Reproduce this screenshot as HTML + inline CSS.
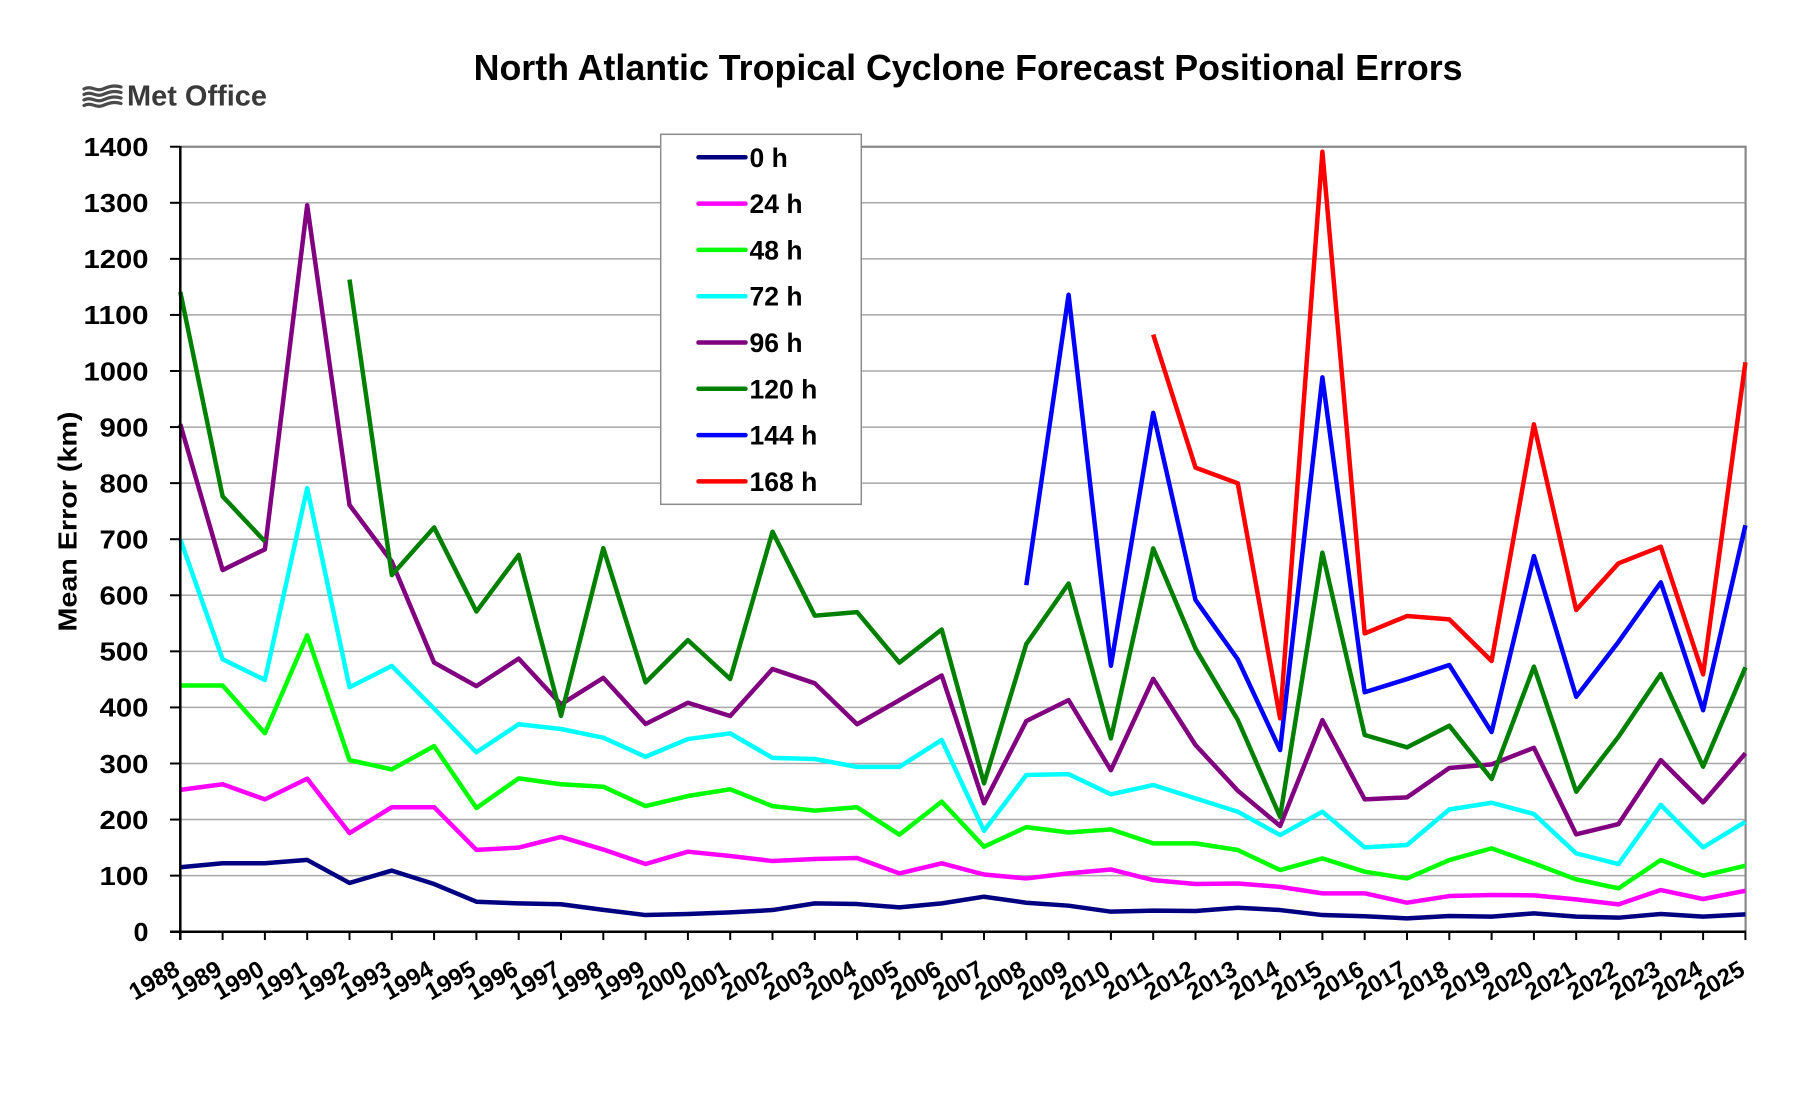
<!DOCTYPE html>
<html>
<head>
<meta charset="utf-8">
<style>
html,body{margin:0;padding:0;background:#fff;width:1800px;height:1099px;overflow:hidden}
svg{display:block}
text{font-family:"Liberation Sans",Arial,sans-serif;font-weight:bold;fill:#000}
.yt{font-size:26px;text-anchor:end}
.xt{font-size:24px;text-anchor:end}
.lg{font-size:26.5px}
.s{fill:none;stroke-width:4.5;stroke-linejoin:round;stroke-linecap:butt;vector-effect:non-scaling-stroke}
</style>
</head>
<body>
<svg width="1800" height="1099" viewBox="0 0 1800 1099" xmlns="http://www.w3.org/2000/svg">
<rect x="0" y="0" width="1800" height="1099" fill="#fff"/>

<!-- Title -->
<text x="473.6" y="80" font-size="36" textLength="989" lengthAdjust="spacingAndGlyphs">North Atlantic Tropical Cyclone Forecast Positional Errors</text>

<!-- Met Office logo -->
<g stroke="#4a4a4a" stroke-width="3.2" fill="none" stroke-linecap="round">
<path d="M84,89 c7,-4 12,3 19,0 s12,-4 18,-2"/>
<path d="M84,94.5 c7,-4 12,3 19,0 s12,-4 18,-2"/>
<path d="M84,100 c7,-4 12,3 19,0 s12,-4 18,-2"/>
<path d="M84,105.5 c7,-4 12,3 19,0 s12,-4 18,-2"/>
</g>
<text x="127" y="105.7" font-size="29" textLength="140" lengthAdjust="spacingAndGlyphs" style="fill:#3a3a3a">Met Office</text>

<!-- Gridlines -->
<g stroke="#a8a8a8" stroke-width="1.5">
<line x1="180.3" y1="875.63" x2="1745.6" y2="875.63"/>
<line x1="180.3" y1="819.56" x2="1745.6" y2="819.56"/>
<line x1="180.3" y1="763.49" x2="1745.6" y2="763.49"/>
<line x1="180.3" y1="707.42" x2="1745.6" y2="707.42"/>
<line x1="180.3" y1="651.35" x2="1745.6" y2="651.35"/>
<line x1="180.3" y1="595.28" x2="1745.6" y2="595.28"/>
<line x1="180.3" y1="539.21" x2="1745.6" y2="539.21"/>
<line x1="180.3" y1="483.14" x2="1745.6" y2="483.14"/>
<line x1="180.3" y1="427.07" x2="1745.6" y2="427.07"/>
<line x1="180.3" y1="371.0" x2="1745.6" y2="371.0"/>
<line x1="180.3" y1="314.93" x2="1745.6" y2="314.93"/>
<line x1="180.3" y1="258.86" x2="1745.6" y2="258.86"/>
<line x1="180.3" y1="202.79" x2="1745.6" y2="202.79"/>
</g>
<!-- plot border top/right -->
<line x1="180.3" y1="146.72" x2="1746.5" y2="146.72" stroke="#888" stroke-width="2.2"/>
<line x1="1745.6" y1="146" x2="1745.6" y2="932" stroke="#888" stroke-width="2.2"/>

<!-- Series -->
<g transform="translate(180.3,931.7) scale(42.3,-0.5607)">
<polyline class="s" stroke="#000080" points="0,115 1,122 2,122 3,128 4,87 5,109 6,85 7,53.5 8,50.5 9,49 10,39 11,29.7 12,31.5 13,34.5 14,38.6 15,50.5 16,49.3 17,43.4 18,50.5 19,62.4 20,51.7 21,46.4 22,35.7 23,37.5 24,36.9 25,42.8 26,38.6 27,29.7 28,27.5 29,23.8 30,28 31,26.8 32,32.7 33,26.8 34,25 35,31.5 36,26.8 37,31"/>
<polyline class="s" stroke="#FF00FF" points="0,253 1,263 2,236 3,273 4,176 5,222 6,222 7,146 8,150 9,169 10,146.5 11,120.7 12,142.7 13,135 14,126 15,129.6 16,131.4 17,104 18,122 19,102 20,95 21,104 22,111 23,92 24,85 25,86 26,80 27,68.4 28,68.4 29,51.7 30,63.6 31,65.4 32,64.8 33,57.7 34,48.8 35,74.3 36,58.3 37,73"/>
<polyline class="s" stroke="#00FF00" points="0,439 1,439 2,354 3,528.5 4,306 5,289.5 6,331 7,220.6 8,273.5 9,263 10,258.6 11,224 12,242 13,254 14,224 15,216 16,222 17,173 18,232 19,151.6 20,186.5 21,177 22,182.5 23,157.5 24,157.5 25,145.7 26,110 27,130.8 28,107 29,95 30,127.8 31,148.6 32,121.9 33,93.3 34,77.3 35,127.8 36,99.9 37,117.7"/>
<polyline class="s" stroke="#00FFFF" points="0,700 1,486 2,449 3,791 4,436 5,474 6,398 7,320 8,370 9,361.5 10,346 11,312 12,343.6 13,353.7 14,310 15,308 16,294 17,294 18,342 19,180 20,279.4 21,281 22,245 23,261.6 24,237.8 25,214 26,172.4 27,214 28,150.4 29,154.6 30,218 31,230 32,209.9 33,139.7 34,120.7 35,226 36,150.4 37,196"/>
<polyline class="s" stroke="#800080" points="0,905 1,645 2,682 3,1295.5 4,761 5,660 6,480 7,438 8,487 9,405.5 10,452.7 11,370.4 12,408.4 13,384.7 14,468.5 15,443 16,370 17,413 18,457 19,229 20,375.7 21,413 22,288 23,451 24,333 25,251.5 26,188.5 27,377.5 28,236 29,239.6 30,292 31,298.5 32,328 33,173.6 34,192 35,306 36,230.7 37,318"/>
<polyline class="s" stroke="#008000" points="0,1141 1,776.5 2,696"/>
<polyline class="s" stroke="#008000" points="4,1163 5,636 6,721 7,571 8,672 9,385 10,684 11,444.7 12,520 13,450.7 14,713.4 15,563.6 16,570 17,480 18,539 19,264.6 20,513 21,621 22,344.8 23,683.7 24,505 25,377.5 26,205 27,676 28,350.8 29,328.8 30,367.4 31,272.3 32,472.7 33,249.7 34,347.8 35,459.6 36,294.3 37,471.5"/>
<polyline class="s" stroke="#0000FF" points="20,618 21,1136 22,474.4 23,925.4 24,591.6 25,485.7 26,324 27,988.6 28,427 29,450.6 30,475.6 31,356 32,670 33,419 34,517 35,623 36,395 37,725"/>
<polyline class="s" stroke="#FF0000" points="23,1065 24,827.7 25,799.7 26,380.5 27,1391 28,532 29,563 30,557 31,482.8 32,904.8 33,573.7 34,657 35,686.7 36,459 37,1015.5"/>
</g>

<!-- Axes -->
<g stroke="#000" stroke-width="2.5">
<line x1="180.3" y1="146" x2="180.3" y2="940"/>
<line x1="170" y1="931.7" x2="1746" y2="931.7"/>
</g>
<!-- Y ticks -->
<g stroke="#000" stroke-width="2">
<line x1="170" y1="146.72" x2="180" y2="146.72"/>
<line x1="170" y1="202.79" x2="180" y2="202.79"/>
<line x1="170" y1="258.86" x2="180" y2="258.86"/>
<line x1="170" y1="314.93" x2="180" y2="314.93"/>
<line x1="170" y1="371.0" x2="180" y2="371.0"/>
<line x1="170" y1="427.07" x2="180" y2="427.07"/>
<line x1="170" y1="483.14" x2="180" y2="483.14"/>
<line x1="170" y1="539.21" x2="180" y2="539.21"/>
<line x1="170" y1="595.28" x2="180" y2="595.28"/>
<line x1="170" y1="651.35" x2="180" y2="651.35"/>
<line x1="170" y1="707.42" x2="180" y2="707.42"/>
<line x1="170" y1="763.49" x2="180" y2="763.49"/>
<line x1="170" y1="819.56" x2="180" y2="819.56"/>
<line x1="170" y1="875.63" x2="180" y2="875.63"/>
</g>
<!-- X ticks -->
<g stroke="#000" stroke-width="2">
<line x1="180.3" y1="932" x2="180.3" y2="940"/><line x1="222.6" y1="932" x2="222.6" y2="940"/><line x1="264.9" y1="932" x2="264.9" y2="940"/><line x1="307.2" y1="932" x2="307.2" y2="940"/><line x1="349.5" y1="932" x2="349.5" y2="940"/><line x1="391.8" y1="932" x2="391.8" y2="940"/><line x1="434.1" y1="932" x2="434.1" y2="940"/><line x1="476.4" y1="932" x2="476.4" y2="940"/><line x1="518.7" y1="932" x2="518.7" y2="940"/><line x1="561.0" y1="932" x2="561.0" y2="940"/><line x1="603.3" y1="932" x2="603.3" y2="940"/><line x1="645.6" y1="932" x2="645.6" y2="940"/><line x1="687.9" y1="932" x2="687.9" y2="940"/><line x1="730.2" y1="932" x2="730.2" y2="940"/><line x1="772.5" y1="932" x2="772.5" y2="940"/><line x1="814.8" y1="932" x2="814.8" y2="940"/><line x1="857.1" y1="932" x2="857.1" y2="940"/><line x1="899.4" y1="932" x2="899.4" y2="940"/><line x1="941.7" y1="932" x2="941.7" y2="940"/><line x1="984.0" y1="932" x2="984.0" y2="940"/><line x1="1026.3" y1="932" x2="1026.3" y2="940"/><line x1="1068.6" y1="932" x2="1068.6" y2="940"/><line x1="1110.9" y1="932" x2="1110.9" y2="940"/><line x1="1153.2" y1="932" x2="1153.2" y2="940"/><line x1="1195.5" y1="932" x2="1195.5" y2="940"/><line x1="1237.8" y1="932" x2="1237.8" y2="940"/><line x1="1280.1" y1="932" x2="1280.1" y2="940"/><line x1="1322.4" y1="932" x2="1322.4" y2="940"/><line x1="1364.7" y1="932" x2="1364.7" y2="940"/><line x1="1407.0" y1="932" x2="1407.0" y2="940"/><line x1="1449.3" y1="932" x2="1449.3" y2="940"/><line x1="1491.6" y1="932" x2="1491.6" y2="940"/><line x1="1533.9" y1="932" x2="1533.9" y2="940"/><line x1="1576.2" y1="932" x2="1576.2" y2="940"/><line x1="1618.5" y1="932" x2="1618.5" y2="940"/><line x1="1660.8" y1="932" x2="1660.8" y2="940"/><line x1="1703.1" y1="932" x2="1703.1" y2="940"/><line x1="1745.4" y1="932" x2="1745.4" y2="940"/>
</g>

<!-- Y tick labels -->
<text class="yt" x="148.5" y="156.0" textLength="65" lengthAdjust="spacingAndGlyphs">1400</text>
<text class="yt" x="148.5" y="212.1" textLength="65" lengthAdjust="spacingAndGlyphs">1300</text>
<text class="yt" x="148.5" y="268.2" textLength="65" lengthAdjust="spacingAndGlyphs">1200</text>
<text class="yt" x="148.5" y="324.2" textLength="65" lengthAdjust="spacingAndGlyphs">1100</text>
<text class="yt" x="148.5" y="380.3" textLength="65" lengthAdjust="spacingAndGlyphs">1000</text>
<text class="yt" x="148.5" y="436.4" textLength="49" lengthAdjust="spacingAndGlyphs">900</text>
<text class="yt" x="148.5" y="492.4" textLength="49" lengthAdjust="spacingAndGlyphs">800</text>
<text class="yt" x="148.5" y="548.5" textLength="49" lengthAdjust="spacingAndGlyphs">700</text>
<text class="yt" x="148.5" y="604.6" textLength="49" lengthAdjust="spacingAndGlyphs">600</text>
<text class="yt" x="148.5" y="660.7" textLength="49" lengthAdjust="spacingAndGlyphs">500</text>
<text class="yt" x="148.5" y="716.7" textLength="49" lengthAdjust="spacingAndGlyphs">400</text>
<text class="yt" x="148.5" y="772.8" textLength="49" lengthAdjust="spacingAndGlyphs">300</text>
<text class="yt" x="148.5" y="828.9" textLength="49" lengthAdjust="spacingAndGlyphs">200</text>
<text class="yt" x="148.5" y="884.9" textLength="49" lengthAdjust="spacingAndGlyphs">100</text>
<text class="yt" x="148.5" y="941.0" textLength="15" lengthAdjust="spacingAndGlyphs">0</text>

<!-- Y axis title -->
<text x="0" y="0" font-size="26" text-anchor="middle" textLength="220" lengthAdjust="spacingAndGlyphs" transform="translate(76.5,521.5) rotate(-90)">Mean Error (km)</text>

<!-- X labels -->
<text class="xt" transform="translate(181.3,974) rotate(-30)">1988</text>
<text class="xt" transform="translate(223.6,974) rotate(-30)">1989</text>
<text class="xt" transform="translate(265.9,974) rotate(-30)">1990</text>
<text class="xt" transform="translate(308.2,974) rotate(-30)">1991</text>
<text class="xt" transform="translate(350.5,974) rotate(-30)">1992</text>
<text class="xt" transform="translate(392.8,974) rotate(-30)">1993</text>
<text class="xt" transform="translate(435.1,974) rotate(-30)">1994</text>
<text class="xt" transform="translate(477.4,974) rotate(-30)">1995</text>
<text class="xt" transform="translate(519.7,974) rotate(-30)">1996</text>
<text class="xt" transform="translate(562.0,974) rotate(-30)">1997</text>
<text class="xt" transform="translate(604.3,974) rotate(-30)">1998</text>
<text class="xt" transform="translate(646.6,974) rotate(-30)">1999</text>
<text class="xt" transform="translate(688.9,974) rotate(-30)">2000</text>
<text class="xt" transform="translate(731.2,974) rotate(-30)">2001</text>
<text class="xt" transform="translate(773.5,974) rotate(-30)">2002</text>
<text class="xt" transform="translate(815.8,974) rotate(-30)">2003</text>
<text class="xt" transform="translate(858.1,974) rotate(-30)">2004</text>
<text class="xt" transform="translate(900.4,974) rotate(-30)">2005</text>
<text class="xt" transform="translate(942.7,974) rotate(-30)">2006</text>
<text class="xt" transform="translate(985.0,974) rotate(-30)">2007</text>
<text class="xt" transform="translate(1027.3,974) rotate(-30)">2008</text>
<text class="xt" transform="translate(1069.6,974) rotate(-30)">2009</text>
<text class="xt" transform="translate(1111.9,974) rotate(-30)">2010</text>
<text class="xt" transform="translate(1154.2,974) rotate(-30)">2011</text>
<text class="xt" transform="translate(1196.5,974) rotate(-30)">2012</text>
<text class="xt" transform="translate(1238.8,974) rotate(-30)">2013</text>
<text class="xt" transform="translate(1281.1,974) rotate(-30)">2014</text>
<text class="xt" transform="translate(1323.4,974) rotate(-30)">2015</text>
<text class="xt" transform="translate(1365.7,974) rotate(-30)">2016</text>
<text class="xt" transform="translate(1408.0,974) rotate(-30)">2017</text>
<text class="xt" transform="translate(1450.3,974) rotate(-30)">2018</text>
<text class="xt" transform="translate(1492.6,974) rotate(-30)">2019</text>
<text class="xt" transform="translate(1534.9,974) rotate(-30)">2020</text>
<text class="xt" transform="translate(1577.2,974) rotate(-30)">2021</text>
<text class="xt" transform="translate(1619.5,974) rotate(-30)">2022</text>
<text class="xt" transform="translate(1661.8,974) rotate(-30)">2023</text>
<text class="xt" transform="translate(1704.1,974) rotate(-30)">2024</text>
<text class="xt" transform="translate(1746.4,974) rotate(-30)">2025</text>

<!-- Legend -->
<rect x="660.7" y="134.3" width="200.6" height="370" fill="#fff" stroke="#8c8c8c" stroke-width="1.5"/>
<g stroke-width="4.5" stroke-linecap="round">
<line x1="698.5" y1="157.3" x2="745.5" y2="157.3" stroke="#000080"/>
<line x1="698.5" y1="203.6" x2="745.5" y2="203.6" stroke="#FF00FF"/>
<line x1="698.5" y1="249.9" x2="745.5" y2="249.9" stroke="#00FF00"/>
<line x1="698.5" y1="296.2" x2="745.5" y2="296.2" stroke="#00FFFF"/>
<line x1="698.5" y1="342.5" x2="745.5" y2="342.5" stroke="#800080"/>
<line x1="698.5" y1="388.8" x2="745.5" y2="388.8" stroke="#008000"/>
<line x1="698.5" y1="435.1" x2="745.5" y2="435.1" stroke="#0000FF"/>
<line x1="698.5" y1="481.4" x2="745.5" y2="481.4" stroke="#FF0000"/>
</g>
<text class="lg" x="749.5" y="166.8">0 h</text>
<text class="lg" x="749.5" y="213.1">24 h</text>
<text class="lg" x="749.5" y="259.4">48 h</text>
<text class="lg" x="749.5" y="305.7">72 h</text>
<text class="lg" x="749.5" y="352.0">96 h</text>
<text class="lg" x="749.5" y="398.3">120 h</text>
<text class="lg" x="749.5" y="444.6">144 h</text>
<text class="lg" x="749.5" y="490.9">168 h</text>
</svg>
</body>
</html>
